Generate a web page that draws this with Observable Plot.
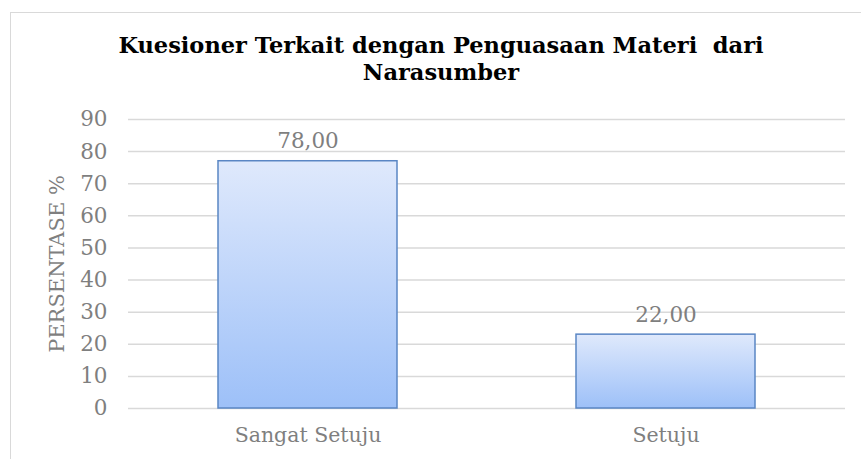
<!DOCTYPE html>
<html><head><meta charset="utf-8">
<script src="https://cdn.jsdelivr.net/npm/d3@7"></script>
<script src="https://cdn.jsdelivr.net/npm/@observablehq/plot@0.6"></script>
<style>
body{margin:0;background:#fff;width:861px;height:459px;overflow:hidden;position:relative;font-family:"DejaVu Serif",serif}
#frame{position:absolute;left:10px;top:12px;width:880px;height:480px;border:1px solid #d9d9d9;}
#title{position:absolute;left:0;width:882px;top:32px;text-align:center;font-weight:bold;font-size:22.5px;line-height:27px;color:#000}
#chart{position:absolute;left:0;top:0}
</style></head><body>
<div id="frame"></div>
<div id="title">Kuesioner Terkait dengan Penguasaan Materi&nbsp; dari<br>Narasumber</div>
<div id="chart"></div>
<script>
const categories = ["Sangat Setuju", "Setuju"];
const values = [77, 23];
const labels = ["78,00", "22,00"];
const yTicks = [0, 10, 20, 30, 40, 50, 60, 70, 80, 90];
const yLabel = "PERSENTASE %";

const data = categories.map((c, i) => ({cat: c, value: values[i], label: labels[i]}));

const defs = () => {
  const g = d3.create("svg:g");
  const lg = g.append("defs").append("linearGradient")
    .attr("id", "barGrad").attr("x1", 0).attr("y1", 0).attr("x2", 0).attr("y2", 1);
  lg.append("stop").attr("offset", "0%").attr("stop-color", "#dfe9fc");
  lg.append("stop").attr("offset", "100%").attr("stop-color", "#9dc0f8");
  return g.node();
};

const chart = Plot.plot({
  width: 861, height: 459,
  marginLeft: 128, marginRight: 16, marginTop: 119, marginBottom: 51,
  style: {fontFamily: "DejaVu Serif", fontSize: "20.5px", color: "#7f7f7f", background: "transparent"},
  x: {domain: categories, paddingInner: 0.5, paddingOuter: 0.25, label: null, tickSize: 0, tickPadding: 19},
  y: {domain: [0, 90], ticks: yTicks, label: null, tickSize: 0, tickPadding: 21},
  marks: [
    defs,
    Plot.gridY(yTicks, {stroke: "#d9d9d9", strokeOpacity: 1, strokeWidth: 1.5}),
    Plot.axisY(yTicks, {tickSize: 0, tickPadding: 21, fontSize: 21.5, fill: "#7f7f7f"}),
    Plot.barY(data, {x: "cat", y: "value", fill: "url(#barGrad)", stroke: "#5a86c4", strokeWidth: 1.5}),
    Plot.text(data, {x: "cat", y: "value", text: "label", dy: -13, lineAnchor: "bottom", fill: "#7f7f7f", fontSize: 21.5}),
    Plot.text([yLabel], {frameAnchor: "left", textAnchor: "middle", rotate: -90, dx: -71, fill: "#7f7f7f", fontSize: 21})
  ]
});
document.getElementById("chart").appendChild(chart);
</script>
</body></html>
